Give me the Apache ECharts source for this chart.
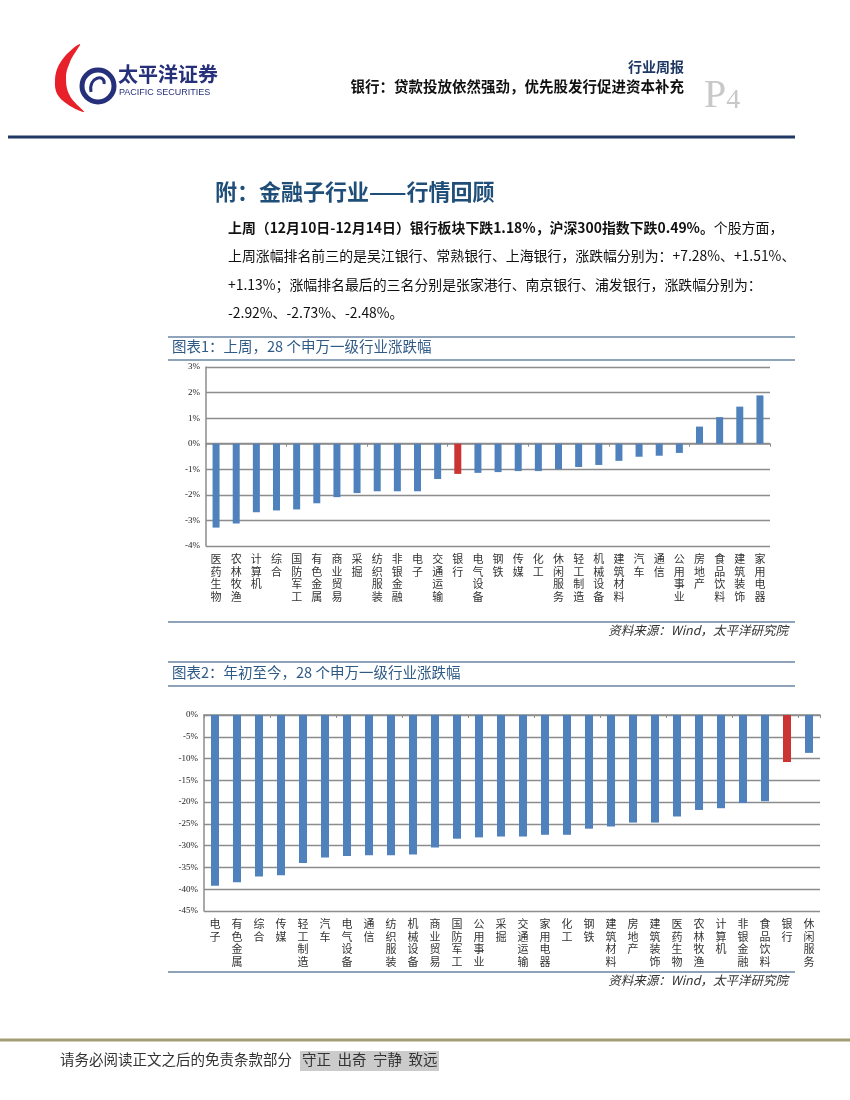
<!DOCTYPE html>
<html>
<head>
<meta charset="utf-8">
<script src="https://cdn.jsdelivr.net/npm/echarts@6/dist/echarts.min.js"></script>
<style>
html,body{margin:0;padding:0;background:#fff;}
#main{width:850px;height:1100px;}
</style>
</head>
<body>
<div id="main"></div>
<script>
// ---- Data ----
const weekCategories = ['医药生物','农林牧渔','计算机','综合','国防军工','有色金属','商业贸易','采掘','纺织服装','非银金融','电子','交通运输','银行','电气设备','钢铁','传媒','化工','休闲服务','轻工制造','机械设备','建筑材料','汽车','通信','公用事业','房地产','食品饮料','建筑装饰','家用电器'];
const weekValues = [-3.28,-3.12,-2.68,-2.61,-2.57,-2.33,-2.09,-1.93,-1.86,-1.86,-1.86,-1.38,-1.18,-1.14,-1.11,-1.07,-1.07,-1.00,-0.91,-0.83,-0.67,-0.51,-0.47,-0.36,0.67,1.04,1.45,1.89];
const ytdCategories = ['电子','有色金属','综合','传媒','轻工制造','汽车','电气设备','通信','纺织服装','机械设备','商业贸易','国防军工','公用事业','采掘','交通运输','家用电器','化工','钢铁','建筑材料','房地产','建筑装饰','医药生物','农林牧渔','计算机','非银金融','食品饮料','银行','休闲服务'];
const ytdValues = [-39.2,-38.4,-37.1,-36.8,-34.0,-32.7,-32.4,-32.2,-32.2,-32.0,-30.4,-28.4,-28.1,-27.9,-27.9,-27.5,-27.5,-26.1,-25.6,-24.7,-24.7,-23.3,-21.8,-21.4,-20.2,-19.8,-10.8,-8.7];
const weekTicks = {min:-4, max:3, interval:1};
const ytdTicks = {min:-45, max:0, interval:5};
const highlightCategory = '银行';

// ---- Styles ----
const BLUE = '#4F81BD', RED = '#CC3333';
const GRID_COLOR = '#8C8C8C';
const CJK = '"Noto Sans CJK SC","Noto Sans",sans-serif';
const TITLE_BLUE = '#2F5A86';
const RULE = '#8FA3BA';

function barData(cats, vals){
  return vals.map((v,i)=>({value:v, itemStyle:{color: cats[i]===highlightCategory ? RED : BLUE}}));
}
function vertical(s){ return s.split('').join('\n'); }

function xAxes(gridIndex, cats, zeroPos){
  return [
    {type:'category', gridIndex, data:cats, position:'bottom',
     axisLine:{show:false, onZero:false}, axisTick:{show:false},
     axisLabel:{interval:0, formatter:vertical, fontSize:11, lineHeight:12.5, color:'#333', fontFamily:CJK, margin:7}},
    {type:'category', gridIndex, data:cats, position:zeroPos,
     axisLine:{show:true, onZero:true, lineStyle:{color:GRID_COLOR, width:1.5}},
     axisTick:{show:true, length:3, inside:zeroPos==='top', lineStyle:{color:GRID_COLOR}},
     axisLabel:{show:false}}
  ];
}
function yAxis(gridIndex, t){
  return {type:'value', gridIndex, min:t.min, max:t.max, interval:t.interval,
    axisLine:{show:true, lineStyle:{color:GRID_COLOR, width:1.5}},
    axisTick:{show:false},
    splitLine:{show:true, lineStyle:{color:GRID_COLOR, width:1.3}},
    axisLabel:{formatter:v=>v+'%', fontSize:9, color:'#222', fontFamily:'"Liberation Serif",serif', margin:6}};
}

const chart = echarts.init(document.getElementById('main'), null, {renderer:'canvas'});

const g = [];
// Logo
g.push({type:'polygon', shape:{points:[[80,44],[62,60],[55,80],[60,98],[84,112],[70,96],[66,78],[70,62]], smooth:0.4}, style:{fill:'#E8202A'}});
g.push({type:'circle', shape:{cx:98, cy:86, r:16}, style:{fill:'none', stroke:'#26307A', lineWidth:5}});
g.push({type:'bezierCurve', shape:{x1:91, y1:92, x2:104, y2:84, cpx1:88, cpy1:76, cpx2:106, cpy2:74}, style:{fill:'none', stroke:'#26307A', lineWidth:3}});
g.push({type:'text', left:118, top:64, style:{text:'太平洋证券', font:'bold 20px '+CJK, fill:'#26307A'}});
g.push({type:'text', left:119, top:88, style:{text:'PACIFIC SECURITIES', font:'9px "Liberation Sans",sans-serif', fill:'#26307A'}});
// Header right
g.push({type:'text', right:850-684, top:60, style:{text:'行业周报', font:'bold 14px '+CJK, fill:'#1F3864'}});
g.push({type:'text', right:850-684, top:79, style:{text:'银行：贷款投放依然强劲，优先股发行促进资本补充', font:'bold 14.5px '+CJK, fill:'#111'}});
g.push({type:'text', left:704, top:76, style:{text:'{p|P}{n|4}', rich:{p:{fontSize:40, fontFamily:'"Liberation Serif",serif', fill:'#C8C8C8'}, n:{fontSize:28, fontFamily:'"Liberation Serif",serif', fill:'#C8C8C8', padding:[10,0,0,0]}}}});
g.push({type:'line', shape:{x1:8, y1:137, x2:795, y2:137}, style:{stroke:'#1F3864', lineWidth:3}});
// Section title & paragraph
g.push({type:'text', left:215, top:181, style:{text:'附：金融子行业——行情回顾', font:'bold 22px '+CJK, fill:'#1F4E79'}});
const P = {b:{fontWeight:'bold', fontSize:13.9, fontFamily:CJK, fill:'#111'}, n:{fontSize:13.9, fontFamily:CJK, fill:'#111'}};
const lines = [
  '{b|上周（12月10日-12月14日）银行板块下跌1.18%，沪深300指数下跌0.49%。}{n|个股方面，}',
  '{n|上周涨幅排名前三的是吴江银行、常熟银行、上海银行，涨跌幅分别为：+7.28%、+1.51%、}',
  '{n|+1.13%；涨幅排名最后的三名分别是张家港行、南京银行、浦发银行，涨跌幅分别为：}',
  '{n|-2.92%、-2.73%、-2.48%。}'
];
[230,258,287,315].forEach((y,i)=>{
  g.push({type:'text', left:228, top:y-9, style:{text:lines[i], rich:P}});
});
// Chart title bars
function titleBar(yTop, yBot, text){
  g.push({type:'line', shape:{x1:168, y1:yTop, x2:795, y2:yTop}, style:{stroke:RULE, lineWidth:2}});
  g.push({type:'line', shape:{x1:168, y1:yBot, x2:795, y2:yBot}, style:{stroke:RULE, lineWidth:2}});
  g.push({type:'text', left:172, top:(yTop+yBot)/2-9, style:{text:text, font:'14.5px '+CJK, fill:TITLE_BLUE}});
}
titleBar(337, 360, '图表1：上周，28 个申万一级行业涨跌幅');
titleBar(662, 686, '图表2：年初至今，28 个申万一级行业涨跌幅');
function source(yLine, yText){
  g.push({type:'line', shape:{x1:168, y1:yLine, x2:795, y2:yLine}, style:{stroke:RULE, lineWidth:2}});
  g.push({type:'text', right:850-788, top:yText-8, style:{text:'资料来源：Wind，太平洋研究院', font:'italic 12.5px '+CJK, fill:'#333'}});
}
source(622, 632);
source(972, 982);
// Footer
g.push({type:'line', shape:{x1:0, y1:1040, x2:850, y2:1040}, style:{stroke:'#A19C74', lineWidth:3}});
g.push({type:'rect', shape:{x:300, y:1051, width:139, height:20}, style:{fill:'#CBCBCB'}});
g.push({type:'text', left:60, top:1052, style:{text:'请务必阅读正文之后的免责条款部分', font:'14.5px '+CJK, fill:'#333'}});
g.push({type:'text', left:302, top:1052, style:{text:'守正  出奇  宁静  致远', font:'14.5px '+CJK, fill:'#333'}});

const option = {
  animation:false,
  backgroundColor:'#fff',
  grid:[
    {left:206, right:80, top:367, bottom:1100-546, containLabel:false},
    {left:204, right:30, top:715, bottom:1100-911, containLabel:false}
  ],
  xAxis:[...xAxes(0, weekCategories, 'bottom'), ...xAxes(1, ytdCategories, 'top')],
  yAxis:[yAxis(0, weekTicks), yAxis(1, ytdTicks)],
  series:[
    {type:'bar', xAxisIndex:0, yAxisIndex:0, data:barData(weekCategories, weekValues), barWidth:7},
    {type:'bar', xAxisIndex:2, yAxisIndex:1, data:barData(ytdCategories, ytdValues), barWidth:8}
  ],
  graphic:g
};
chart.setOption(option);
</script>
</body>
</html>
